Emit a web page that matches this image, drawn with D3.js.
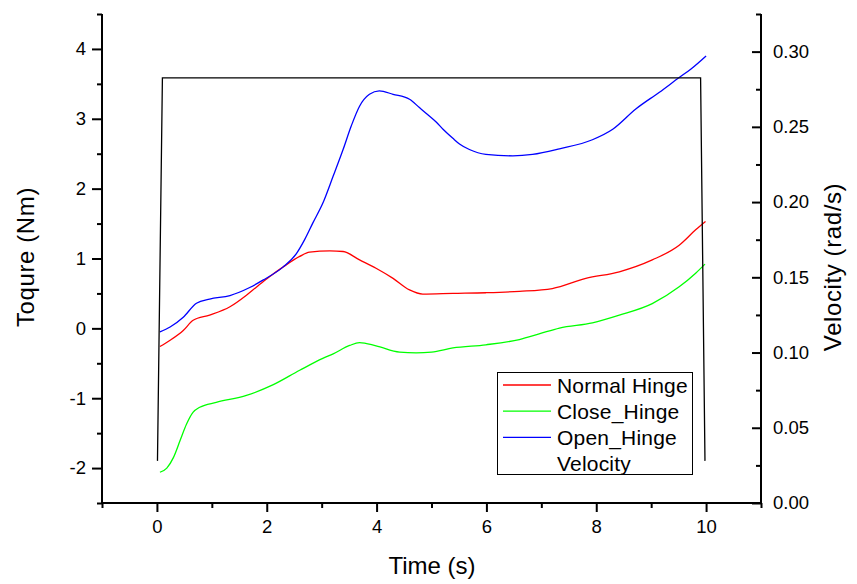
<!DOCTYPE html>
<html><head><meta charset="utf-8">
<script src="https://cdn.jsdelivr.net/npm/d3@7"></script>
<style>
body{margin:0;background:#fff;}
text{font-family:"Liberation Sans",Arial,sans-serif;fill:#000;}
</style></head>
<body><svg id="c" width="857" height="584"></svg>
<script>
// ---- data ----
const normalT = [0.055,0.24,0.48,0.66,0.96,1.33,1.63,1.81,2.05,2.30,2.60,2.78,3.15,3.39,3.69,3.99,4.30,4.60,4.84,5.39,5.99,6.6,7.2,7.81,8.42,9.02,9.51,9.81,9.99];
const normalV = [-0.26,-0.17,-0.03,0.115,0.19,0.31,0.475,0.59,0.74,0.88,1.03,1.09,1.11,1.10,0.98,0.86,0.715,0.55,0.49,0.50,0.51,0.53,0.57,0.715,0.81,0.98,1.19,1.41,1.53];
const closeT = [0.055,0.18,0.30,0.42,0.54,0.66,0.78,1.08,1.63,2.11,2.6,3.02,3.21,3.51,3.69,3.99,4.42,4.72,5.0,5.39,5.99,6.6,6.96,7.33,7.93,8.42,9.02,9.51,9.81,9.98];
const closeV = [-2.06,-2.0,-1.85,-1.61,-1.37,-1.20,-1.13,-1.06,-0.96,-0.81,-0.6,-0.43,-0.365,-0.245,-0.205,-0.25,-0.34,-0.35,-0.34,-0.28,-0.235,-0.16,-0.08,0.005,0.08,0.19,0.355,0.595,0.79,0.92];
const openT = [0.055,0.24,0.48,0.72,0.96,1.33,1.69,1.93,2.30,2.54,2.69,2.84,3.02,3.21,3.39,3.54,3.69,3.87,4.05,4.30,4.60,4.78,4.90,5.09,5.21,5.39,5.51,5.69,5.99,6.48,6.84,7.33,7.93,8.30,8.72,9.15,9.51,9.72,10.0];
const openV = [-0.05,0.02,0.16,0.36,0.42,0.47,0.585,0.69,0.88,1.07,1.27,1.51,1.79,2.18,2.56,2.90,3.18,3.35,3.40,3.35,3.28,3.16,3.08,2.95,2.85,2.72,2.64,2.56,2.49,2.47,2.49,2.57,2.70,2.85,3.14,3.38,3.59,3.71,3.90];
const velT = [0.01,0.10,9.90,9.98];
const velV = [0.028,0.2825,0.2825,0.028];
const xTicks = [0,2,4,6,8,10];
const yLTicks = [-2,-1,0,1,2,3,4];
const yRTicks = [0.00,0.05,0.10,0.15,0.20,0.25,0.30];
const legendLabels = ["Normal Hinge","Close_Hinge","Open_Hinge","Velocity"];
const colors = ["#ff0000","#00ff00","#0000ff","#000000"];

// ---- layout ----
const L=102, R=761, T=14, B=503;
const svg = d3.select("#c");
svg.append("rect").attr("width",857).attr("height",584).attr("fill","#fff");
const x = d3.scaleLinear().domain([-1,11]).range([L,R]);
const yL = d3.scaleLinear().domain([-2.5,4.5]).range([B,T]);
const yR = d3.scaleLinear().domain([0,0.325]).range([B,T]);

// series lines
const series = [
  {t:normalT,v:normalV,y:yL,c:colors[0],curve:d3.curveMonotoneX},
  {t:closeT,v:closeV,y:yL,c:colors[1],curve:d3.curveMonotoneX},
  {t:openT,v:openV,y:yL,c:colors[2],curve:d3.curveMonotoneX},
  {t:velT,v:velV,y:yR,c:colors[3],curve:d3.curveLinear}
];
series.forEach(s=>{
  const pts = s.t.map((t,i)=>[t,s.v[i]]);
  const line = d3.line().x(d=>x(d[0])).y(d=>s.y(d[1])).curve(s.curve);
  svg.append("path").attr("d",line(pts)).attr("fill","none")
    .attr("stroke",s.c).attr("stroke-width",1.3);
});

const hyph = f => d => f(d).replace("\u2212","-");

// axes
function styleAxis(g){
  g.select(".domain").remove();
  g.selectAll(".tick line").attr("stroke","#000").attr("stroke-width",2);
  g.selectAll(".tick text").attr("font-size","18.5px").attr("fill","#000")
   .attr("font-family","Liberation Sans, Arial, sans-serif");
}
// left
svg.append("g").attr("transform",`translate(${L},0)`)
  .call(d3.axisLeft(yL).tickValues(d3.range(-2.5,4.51,0.5).filter(v=>Math.abs(v%1)>0.01)).tickSize(5).tickFormat(""))
  .call(styleAxis);
svg.append("g").attr("transform",`translate(${L},0)`)
  .call(d3.axisLeft(yL).tickValues(yLTicks).tickSize(10).tickPadding(6).tickFormat(hyph(d3.format("d"))))
  .call(styleAxis);
// bottom
svg.append("g").attr("transform",`translate(0,${B})`)
  .call(d3.axisBottom(x).tickValues([-1,1,3,5,7,9,11]).tickSize(5).tickFormat(""))
  .call(styleAxis);
svg.append("g").attr("transform",`translate(0,${B})`)
  .call(d3.axisBottom(x).tickValues(xTicks).tickSize(9).tickPadding(8).tickFormat(d3.format("d")))
  .call(styleAxis);
// right (ticks point inward)
svg.append("g").attr("transform",`translate(${R},0)`)
  .call(d3.axisRight(yR).tickValues(d3.range(0.025,0.326,0.05)).tickSize(-5).tickFormat(""))
  .call(styleAxis);
const rg2 = svg.append("g").attr("transform",`translate(${R},0)`)
  .call(d3.axisRight(yR).tickValues(yRTicks).tickSize(-9).tickFormat(d3.format(".2f")))
  .call(styleAxis);
rg2.selectAll(".tick text").attr("x",12);

// axis lines
svg.append("line").attr("x1",L).attr("x2",L).attr("y1",T).attr("y2",B+1).attr("stroke","#000").attr("stroke-width",2);
svg.append("line").attr("x1",R).attr("x2",R).attr("y1",T).attr("y2",B+1).attr("stroke","#000").attr("stroke-width",2);
svg.append("line").attr("x1",L-1).attr("x2",R+1).attr("y1",B).attr("y2",B).attr("stroke","#000").attr("stroke-width",2);

// titles
svg.append("text").attr("x",432).attr("y",574).attr("text-anchor","middle")
  .attr("font-size","24px").text("Time (s)");
svg.append("text").attr("transform","translate(34,257) rotate(-90)").attr("text-anchor","middle")
  .attr("font-size","24px").attr("letter-spacing","0.6px").text("Toqure (Nm)");
svg.append("text").attr("transform","translate(841,267) rotate(-90)").attr("text-anchor","middle")
  .attr("font-size","24px").attr("letter-spacing","0.6px").text("Velocity (rad/s)");

// legend
const lg = svg.append("g");
lg.append("rect").attr("x",497.5).attr("y",372.5).attr("width",195).attr("height",102)
  .attr("fill","#fff").attr("stroke","#000").attr("stroke-width",1);
legendLabels.forEach((lab,i)=>{
  const cy = 385 + i*26.2;
  if(i<3) lg.append("line").attr("x1",503).attr("x2",551).attr("y1",cy).attr("y2",cy)
    .attr("stroke",colors[i]).attr("stroke-width",1.3);
  lg.append("text").attr("x",557).attr("y",cy+7.5).attr("font-size","21px").attr("letter-spacing","0.2px").text(lab);
});
</script></body></html>
